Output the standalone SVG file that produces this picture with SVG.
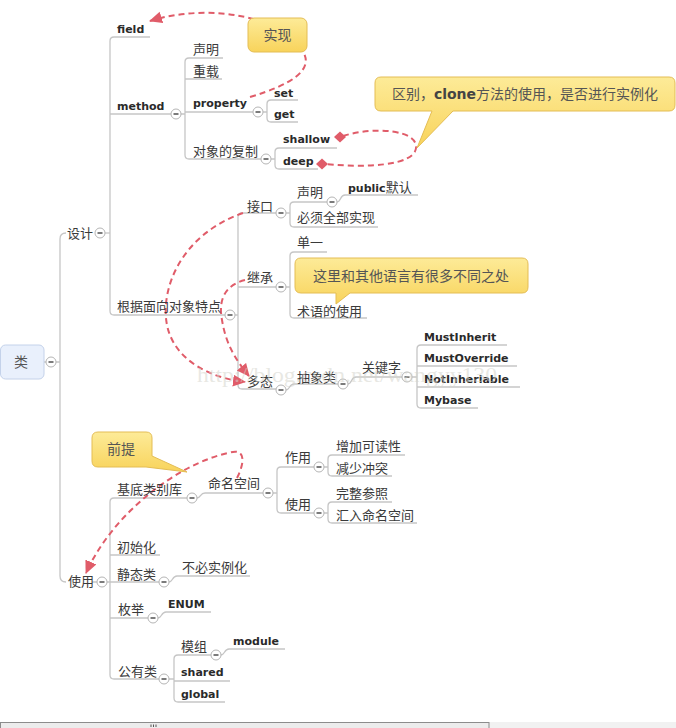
<svg xmlns="http://www.w3.org/2000/svg" xmlns:xlink="http://www.w3.org/1999/xlink" width="676" height="728" viewBox="0 0 676 728">
<style>
.ln{fill:none;stroke:#c6c6c6;stroke-width:1.3}
.t{font-family:"Noto Sans CJK SC","DejaVu Sans",sans-serif;font-size:13px;fill:#3a3a3a}
.b{font-family:"DejaVu Sans","Noto Sans CJK SC",sans-serif;font-size:11px;font-weight:bold;fill:#2a2a2a}
.ct{font-family:"Noto Sans CJK SC","DejaVu Sans",sans-serif;font-size:14px;fill:#555}
.cb{font-family:"DejaVu Sans","Noto Sans CJK SC",sans-serif;font-weight:bold;fill:#444}
.co{fill:url(#yel);stroke:#e4bd55;stroke-width:1}
.rel{fill:none;stroke:#e05c69;stroke-width:2;stroke-dasharray:6 4}
.dia{fill:#e05c69}
</style>
<defs>
<linearGradient id="yel" x1="0" y1="0" x2="0" y2="1">
<stop offset="0" stop-color="#fdeb98"/>
<stop offset="1" stop-color="#f8d35b"/>
</linearGradient>
<g id="col">
<circle r="5" fill="#fff" stroke="#b5b5b5" stroke-width="1"/>
<line x1="-2.5" y1="0" x2="2.5" y2="0" stroke="#333" stroke-width="1.3"/>
</g>
<marker id="arr" markerUnits="userSpaceOnUse" markerWidth="14" markerHeight="14" refX="12" refY="6" orient="auto">
<path d="M0,0 L13,6 L0,12 Z" fill="#e05c69"/>
</marker>
</defs>
<rect width="676" height="728" fill="#fff"/>

<g id="connectors">
<path class="ln" d="M44,362 L46,362 M56,362 L60,362"/>
<path class="ln" d="M66,233 Q60,233 60,239 L60,576 Q60,582 66,582"/>
<path class="ln" d="M105,233 L110,233"/>
<path class="ln" d="M150,37 L114,37 Q110,37 110,41 L110,311 Q110,315 114,315 L225,315 M110,114 L171,114"/>
<path class="ln" d="M181,114 L185,114 M223,58 L189,58 Q185,58 185,62 L185,155 Q185,159 189,159 L261,159 M185,79 L222,79 M185,112 L253,112"/>
<path class="ln" d="M263,112 L267,112 M298,100 L271,100 Q267,100 267,104 L267,118 Q267,122 271,122 L298,122"/>
<path class="ln" d="M271,159 L275,159 M337,148 L279,148 Q275,148 275,152 L275,165 Q275,169 279,169 L318,169"/>
<path class="ln" d="M235,315 L238,315 M276,213 L242,213 Q238,213 238,217 L238,385 Q238,389 242,389 L276,389 M238,287 L276,287"/>
<path class="ln" d="M286,213 L290,213 M327,202 L294,202 Q290,202 290,206 L290,223 Q290,227 294,227 L378,227"/>
<path class="ln" d="M337,202 C341,202 340,195 345,195 L418,195"/>
<path class="ln" d="M286,287 L290,287 M327,252 L294,252 Q290,252 290,256 L290,314 Q290,318 294,318 L367,318"/>
<path class="ln" d="M286,390 C290,390 289,384 294,384 L338,384"/>
<path class="ln" d="M348,384 C352,384 351,377 356,377 L402,377"/>
<path class="ln" d="M412,377 L417,377 M507,345 L421,345 Q417,345 417,349 L417,404 Q417,408 421,408 L478,408 M417,366 L517,366 M417,387 L520,387"/>
<path class="ln" d="M92,582 L97,582 M107,582 L110,582"/>
<path class="ln" d="M187,498 L114,498 Q110,498 110,502 L110,675 Q110,679 114,679 L159,679 M110,555 L160,555 M110,582 L159,582 M110,618 L148,618"/>
<path class="ln" d="M197,498 C201,498 200,493 205,493 L263,493"/>
<path class="ln" d="M273,493 L277,493 M314,467 L281,467 Q277,467 277,471 L277,509 Q277,513 281,513 L314,513"/>
<path class="ln" d="M324,467 L328,467 M405,455 L332,455 Q328,455 328,459 L328,472 Q328,476 332,476 L392,476"/>
<path class="ln" d="M324,513 L328,513 M392,502 L332,502 Q328,502 328,506 L328,519 Q328,523 332,523 L417,523"/>
<path class="ln" d="M169,582 C173,582 172,576 177,576 L250,576"/>
<path class="ln" d="M158,618 C162,618 161,612 166,612 L211,612"/>
<path class="ln" d="M169,679 L174,679 M211,655 L178,655 Q174,655 174,659 L174,698 Q174,702 178,702 L225,702 M174,681 L230,681"/>
<path class="ln" d="M221,655 C225,655 224,649 229,649 L285,649"/>
</g>

<g id="relationships">
<path class="rel" d="M250,97 C290,85 316,70 302,50 C285,18 210,2 150,21" marker-end="url(#arr)"/>
<path class="rel" d="M343,136 C375,126 418,130 416,148 C414,166 365,168 326,164"/>
<polygon class="dia" points="334,137 340,131.5 346,137 340,142.5"/>
<polygon class="dia" points="316,164 322,158.5 328,164 322,169.5"/>
<path class="rel" d="M243,213 C180,235 160,290 167,325 C174,360 210,378 245,382" marker-end="url(#arr)"/>
<path class="rel" d="M245,280 C225,285 218,300 222,320 C226,345 236,360 249,376" marker-end="url(#arr)"/>
<path class="rel" d="M237,478 C245,462 246,447 228,453 C175,465 112,515 86,573" marker-end="url(#arr)"/>
</g>

<g id="root">
<rect x="0.5" y="345" width="43.5" height="34" rx="5" fill="#e9f0fc" stroke="#c4d2ea"/>
<text class="ct" x="21" y="367" text-anchor="middle">类</text>
<use xlink:href="#col" x="51" y="362"/>
</g>

<g id="n-sheji"><text class="t" x="67" y="238">设计</text><use xlink:href="#col" x="100" y="233"/></g>
<g id="n-field"><text class="b" x="117" y="33">field</text></g>
<g id="n-method"><text class="b" x="117" y="110">method</text><use xlink:href="#col" x="176" y="114"/></g>
<g id="n-shengming1"><text class="t" x="193" y="54">声明</text></g>
<g id="n-chongzai"><text class="t" x="193" y="76">重载</text></g>
<g id="n-property"><text class="b" x="193" y="107">property</text><use xlink:href="#col" x="258" y="112"/></g>
<g id="n-set"><text class="b" x="274" y="97">set</text></g>
<g id="n-get"><text class="b" x="274" y="118">get</text></g>
<g id="n-fuzhi"><text class="t" x="193" y="156">对象的复制</text><use xlink:href="#col" x="266" y="159"/></g>
<g id="n-shallow"><text class="b" x="283" y="143">shallow</text></g>
<g id="n-deep"><text class="b" x="283" y="165">deep</text></g>
<g id="n-oo"><text class="t" x="117" y="311">根据面向对象特点</text><use xlink:href="#col" x="230" y="315"/></g>
<g id="n-jiekou"><text class="t" x="247" y="211">接口</text><use xlink:href="#col" x="281" y="213"/></g>
<g id="n-shengming2"><text class="t" x="297" y="197">声明</text><use xlink:href="#col" x="332" y="202"/></g>
<g id="n-public"><text class="b" x="348" y="192">public<tspan class="t" style="font-weight:normal">默认</tspan></text></g>
<g id="n-bixu"><text class="t" x="297" y="222">必须全部实现</text></g>
<g id="n-jicheng"><text class="t" x="247" y="282">继承</text><use xlink:href="#col" x="281" y="287"/></g>
<g id="n-danyi"><text class="t" x="297" y="247">单一</text></g>
<g id="n-shuyu"><text class="t" x="297" y="316">术语的使用</text></g>
<g id="n-duotai"><text class="t" x="247" y="386">多态</text><use xlink:href="#col" x="281" y="390"/></g>
<g id="n-chouxiang"><text class="t" x="297" y="382">抽象类</text><use xlink:href="#col" x="343" y="384"/></g>
<g id="n-guanjianzi"><text class="t" x="362" y="372">关键字</text><use xlink:href="#col" x="407" y="377"/></g>
<g id="n-mustinherit"><text class="b" x="424" y="341">MustInherit</text></g>
<g id="n-mustoverride"><text class="b" x="424" y="362">MustOverride</text></g>
<g id="n-notinheriable"><text class="b" x="424" y="383">NotInheriable</text></g>
<g id="n-mybase"><text class="b" x="424" y="404">Mybase</text></g>

<g id="n-shiyong"><text class="t" x="68" y="586">使用</text><use xlink:href="#col" x="102" y="582"/></g>
<g id="n-jidi"><text class="t" x="117" y="494">基底类别库</text><use xlink:href="#col" x="192" y="498"/></g>
<g id="n-mingming"><text class="t" x="208" y="488">命名空间</text><use xlink:href="#col" x="268" y="493"/></g>
<g id="n-zuoyong"><text class="t" x="285" y="462">作用</text><use xlink:href="#col" x="319" y="467"/></g>
<g id="n-zengjia"><text class="t" x="336" y="451">增加可读性</text></g>
<g id="n-jianshao"><text class="t" x="336" y="473">减少冲突</text></g>
<g id="n-shiyong2"><text class="t" x="285" y="509">使用</text><use xlink:href="#col" x="319" y="513"/></g>
<g id="n-wanzheng"><text class="t" x="336" y="498">完整参照</text></g>
<g id="n-huiru"><text class="t" x="336" y="520">汇入命名空间</text></g>
<g id="n-chushihua"><text class="t" x="117" y="552">初始化</text></g>
<g id="n-jingtai"><text class="t" x="117" y="579">静态类</text><use xlink:href="#col" x="164" y="582"/></g>
<g id="n-bubi"><text class="t" x="182" y="572">不必实例化</text></g>
<g id="n-meiju"><text class="t" x="118" y="614">枚举</text><use xlink:href="#col" x="153" y="618"/></g>
<g id="n-enum"><text class="b" x="168" y="608">ENUM</text></g>
<g id="n-gongyou"><text class="t" x="118" y="676">公有类</text><use xlink:href="#col" x="164" y="679"/></g>
<g id="n-mozu"><text class="t" x="181" y="651">模组</text><use xlink:href="#col" x="216" y="655"/></g>
<g id="n-module"><text class="b" x="233" y="645">module</text></g>
<g id="n-shared"><text class="b" x="181" y="676">shared</text></g>
<g id="n-global"><text class="b" x="181" y="698">global</text></g>

<g id="callout-shixian">
<rect class="co" x="248" y="18" width="59" height="34" rx="6"/>
<text class="ct" x="277.5" y="40" text-anchor="middle">实现</text>
</g>
<g id="callout-qubie">
<path class="co" d="M381,77 H669 Q675,77 675,83 V105 Q675,111 669,111 H453 L417,148 L432,111 H381 Q375,111 375,105 V83 Q375,77 381,77 Z"/>
<text class="ct" x="525" y="99" text-anchor="middle">区别，<tspan class="cb">clone</tspan>方法的使用，是否进行实例化</text>
</g>
<g id="callout-zheli">
<path class="co" d="M301,258 H522 Q528,258 528,264 V287 Q528,293 522,293 H350 L336,304 L336,293 H301 Q295,293 295,287 V264 Q295,258 301,258 Z"/>
<text class="ct" x="411" y="281" text-anchor="middle">这里和其他语言有很多不同之处</text>
</g>
<g id="callout-qianti">
<path class="co" d="M98,432 H146 Q152,432 152,438 V456 L187,472 L146,467 H98 Q92,467 92,461 V438 Q92,432 98,432 Z"/>
<text class="ct" x="121" y="454" text-anchor="middle">前提</text>
</g>

<text x="197" y="382" font-family="Liberation Serif, serif" font-size="20" fill="#d4d4cc" fill-opacity="0.55" textLength="300" lengthAdjust="spacingAndGlyphs">http://blog.csdn.net/wangyy130</text>

<g id="scrollbar">
<rect x="489" y="722" width="187" height="6" fill="#f1f1f1"/>
<rect x="0.5" y="722.5" width="488.5" height="6" fill="#ececec" stroke="#8c8c8c"/>
<path d="M151,724.5 V727 M153.5,724.5 V727 M156,724.5 V727" stroke="#555" stroke-width="1"/>
</g>
</svg>
